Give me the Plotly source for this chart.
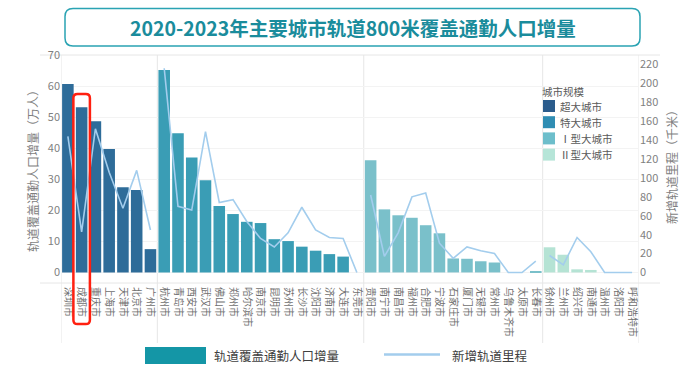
import plotly.graph_objects as go

# ---------------- data ----------------
group_names = ["超大城市", "特大城市", "Ⅰ型大城市", "Ⅱ型大城市"]
cities_g1 = ["深圳市", "成都市", "重庆市", "上海市", "天津市", "北京市", "广州市"]
cities_g2 = ["杭州市", "青岛市", "西安市", "武汉市", "佛山市", "郑州市", "哈尔滨市", "南京市",
             "昆明市", "苏州市", "长沙市", "沈阳市", "济南市", "大连市", "东莞市"]
cities_g3 = ["贵阳市", "南宁市", "南昌市", "福州市", "合肥市", "宁波市", "石家庄市", "厦门市",
             "无锡市", "常州市", "乌鲁木齐市", "太原市", "长春市"]
cities_g4 = ["徐州市", "兰州市", "绍兴市", "南通市", "温州市", "洛阳市", "呼和浩特市"]

# 轨道覆盖通勤人口增量（万人）
pop_g1 = [60.7, 53.2, 48.7, 39.7, 27.4, 26.5, 7.5]
pop_g2 = [65.2, 44.8, 37.0, 29.7, 21.4, 18.8, 16.3, 15.9, 10.7, 10.1, 8.3, 7.0, 5.9, 5.1, 0.0]
pop_g3 = [36.1, 20.3, 18.4, 17.6, 15.2, 12.6, 4.5, 4.4, 3.6, 3.2, 0.0, 0.0, 0.3]
pop_g4 = [8.1, 5.7, 1.0, 0.8, 0.0, 0.0, 0.0]

# 新增轨道里程（千米）
km_g1 = [144, 43, 152, 106, 68, 108, 45]
km_g2 = [216, 70, 66, 149, 74, 77, 54, 36, 27, 42, 69, 45, 37, 36, 0]
km_g3 = [82, 17, 42, 80, 84, 31, 15, 27, 23, 20, 0, 0, 12]
km_g4 = [18, 8, 37, 22, 0, 0, 0]

# ---------------- styles ----------------
bar_colors = ["#2E6C99", "#3A9DB5", "#7AC0CA", "#B5E3D4"]
legend_colors = ["#2B5C8C", "#2F8DB3", "#6DBECB", "#B6E5D8"]
line_color = "#A3CDED"
FONT = "Noto Sans CJK SC"
W, H = 700, 382
L, R, T, B = 61, 61, 55, 99
PW, PH = W - L - R, H - T - B


def px(x):
    return (x - L) / PW


def py(y):
    return (H - B - y) / PH


def rrect(x0, x1, y0, y1, rx, ry):
    return (f"M {x0+rx},{y1} L {x1-rx},{y1} Q {x1},{y1} {x1},{y1-ry} "
            f"L {x1},{y0+ry} Q {x1},{y0} {x1-rx},{y0} L {x0+rx},{y0} "
            f"Q {x0},{y0} {x0},{y0+ry} L {x0},{y1-ry} Q {x0},{y1} {x0+rx},{y1} Z")


groups = [(cities_g1, pop_g1, km_g1), (cities_g2, pop_g2, km_g2),
          (cities_g3, pop_g3, km_g3), (cities_g4, pop_g4, km_g4)]

all_cities = []
fig = go.Figure()
start = 0
boundaries = []
for gi, (cities, pops, kms) in enumerate(groups):
    xs = list(range(start, start + len(cities)))
    all_cities += cities
    fig.add_trace(go.Bar(x=xs, y=pops, name=group_names[gi], marker_color=bar_colors[gi],
                         marker_line_width=0, width=0.84, yaxis="y", showlegend=False,
                         hoverinfo="y"))
    fig.add_trace(go.Scatter(x=xs, y=kms, mode="lines", line=dict(color=line_color, width=1.6),
                             yaxis="y2", showlegend=False, hoverinfo="y"))
    start += len(cities)
    boundaries.append(start - 0.5)

n = len(all_cities)
shapes = []
# frame lines
for yy in [55, 283]:
    shapes.append(dict(type="line", xref="paper", yref="paper", x0=px(40), x1=px(660),
                       y0=py(yy), y1=py(yy), line=dict(color="#E6E6E6", width=1), layer="below"))
for xb in [-0.5] + boundaries:
    shapes.append(dict(type="line", xref="x", yref="paper", x0=xb, x1=xb,
                       y0=1, y1=py(343), line=dict(color="#E6E6E6", width=1), layer="below"))

# highlight box around 成都市
hi = all_cities.index("成都市")
shapes.append(dict(type="path", xref="x", yref="paper",
                   path=rrect(hi - 0.6, hi + 0.6, py(324), py(94), 0.3, 0.018),
                   line=dict(color="#FF2010", width=2.5)))

# title box
shapes.append(dict(type="path", xref="paper", yref="paper",
                   path=rrect(px(65), px(640), py(46), py(8.5), 8 / PW, 8 / PH),
                   line=dict(color="#2AA3B3", width=1.5), fillcolor="white"))

# bottom legend
shapes.append(dict(type="rect", xref="paper", yref="paper", x0=px(145), x1=px(206),
                   y0=py(364), y1=py(347), line=dict(width=0), fillcolor="#1496A6"))
shapes.append(dict(type="line", xref="paper", yref="paper", x0=px(384), x1=px(440),
                   y0=py(354.5), y1=py(354.5), line=dict(color=line_color, width=2.5)))

annotations = [
    dict(text="<b>2020-2023年主要城市轨道800米覆盖通勤人口增量</b>", xref="paper", yref="paper",
         x=px(353), y=py(28), xanchor="center", yanchor="middle", showarrow=False,
         font=dict(size=19.5, color="#1A8C9C", family=FONT)),
    dict(text="轨道覆盖通勤人口增量（万人）", xref="paper", yref="paper", x=px(32), y=py(168),
         xanchor="center", yanchor="middle", textangle=-90, showarrow=False,
         font=dict(size=12, color="#7F7F7F", family=FONT)),
    dict(text="新增轨道里程（千米）", xref="paper", yref="paper", x=px(671), y=py(164),
         xanchor="center", yanchor="middle", textangle=-90, showarrow=False,
         font=dict(size=12, color="#7F7F7F", family=FONT)),
    dict(text="轨道覆盖通勤人口增量", xref="paper", yref="paper", x=px(212), y=py(355),
         xanchor="left", yanchor="middle", showarrow=False,
         font=dict(size=12.5, color="#404040", family=FONT)),
    dict(text="新增轨道里程", xref="paper", yref="paper", x=px(450), y=py(355),
         xanchor="left", yanchor="middle", showarrow=False,
         font=dict(size=12.5, color="#404040", family=FONT)),
    dict(text="城市规模", xref="paper", yref="paper", x=px(540), y=py(92),
         xanchor="left", yanchor="middle", showarrow=False,
         font=dict(size=10.5, color="#595959", family=FONT)),
]

# in-plot legend (city size classes)
for gi, name in enumerate(group_names):
    cy = 106 + 16.2 * gi
    shapes.append(dict(type="rect", xref="paper", yref="paper", x0=px(543), x1=px(555),
                       y0=py(cy + 6), y1=py(cy - 6), line=dict(width=0),
                       fillcolor=legend_colors[gi]))
    annotations.append(dict(text=name, xref="paper", yref="paper", x=px(558), y=py(cy),
                            xanchor="left", yanchor="middle", showarrow=False,
                            font=dict(size=10.5, color="#595959", family=FONT)))

fig.update_layout(
    width=W, height=H, autosize=False,
    margin=dict(l=L, r=R, t=T, b=B, pad=0),
    paper_bgcolor="white", plot_bgcolor="white",
    font=dict(family=FONT, color="#666666"),
    barmode="overlay",
    showlegend=False,
    xaxis=dict(range=[-0.5, n - 0.5], tickmode="array", tickvals=list(range(n)),
               ticktext=all_cities, tickangle=90, tickfont=dict(size=10, color="#707070"),
               showgrid=False, zeroline=False, showline=False, ticks="",
               ticklabelstandoff=3),
    yaxis=dict(range=[-3.4, 70], tickvals=list(range(0, 71, 10)), showgrid=True,
               gridcolor="#F3F3F3", zeroline=False, showline=False, ticks="",
               tickfont=dict(size=11, color="#7F7F7F")),
    yaxis2=dict(range=[-11.1, 230], tickvals=list(range(0, 221, 20)), overlaying="y",
                side="right", showgrid=False, zeroline=False, showline=False, ticks="",
                tickfont=dict(size=11, color="#7F7F7F")),
    shapes=shapes,
    annotations=annotations,
)

fig.write_html("out.html", config={"displayModeBar": False},
               post_script="document.body.style.margin='0';document.body.style.overflow='hidden';")
